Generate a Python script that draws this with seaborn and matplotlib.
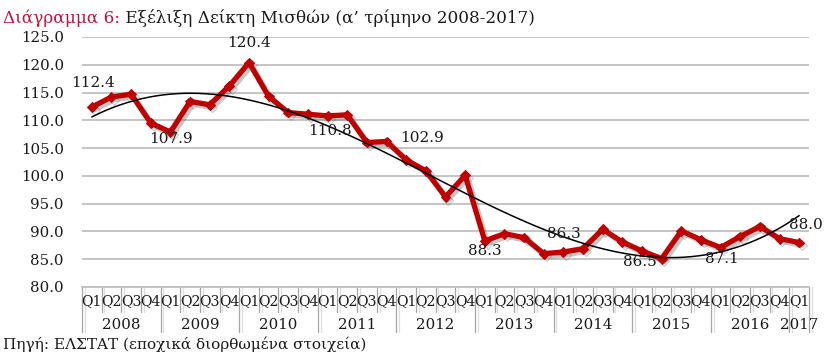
import numpy as np
import pandas as pd
import matplotlib
matplotlib.use('Agg')
import matplotlib.pyplot as plt
import matplotlib.patheffects as pe
import seaborn as sns

years = ['2008', '2009', '2010', '2011', '2012', '2013', '2014', '2015', '2016', '2017']
quarters = ['Q1', 'Q2', 'Q3', 'Q4'] * 9 + ['Q1']
values = [112.4, 114.2, 114.7, 109.5, 107.9, 113.4, 112.8, 116.2,
          120.4, 114.3, 111.4, 111.1, 110.8, 111.0, 106.0, 106.2,
          102.9, 100.9, 96.2, 100.1, 88.3, 89.6, 88.9, 86.0,
          86.3, 86.9, 90.4, 88.1, 86.5, 85.1, 90.1, 88.5,
          87.1, 89.1, 90.9, 88.7, 88.0]
labeled = [0, 4, 8, 12, 16, 20, 24, 28, 32, 36]
label_offsets_px = [(1, 24), (1, -7), (0, 20), (2, -15), (16, 22),
                    (0, -10), (0, 18), (-2, -11), (1, -11), (7, 18)]
yticks = [80, 85, 90, 95, 100, 105, 110, 115, 120, 125]

df = pd.DataFrame({'idx': np.arange(len(values)), 'value': values,
                   'quarter': quarters})

sns.set_theme(style='white')
plt.rcParams['font.family'] = ['DejaVu Serif']

fig = plt.figure(figsize=(8.3, 3.62), dpi=100)
ax = fig.add_axes([82 / 830, 1 - 287 / 362, (809 - 82) / 830, 250 / 362])

red = '#C00000'
sns.lineplot(data=df, x='idx', y='value', ax=ax, color=red, lw=3.8,
             marker='D', markersize=5, markeredgecolor=red,
             solid_joinstyle='round', solid_capstyle='round',
             path_effects=[pe.SimpleLineShadow(offset=(2, -2), shadow_color='#606060', alpha=0.35),
                           pe.Normal()],
             zorder=3)
sns.regplot(data=df, x='idx', y='value', order=3, scatter=False, ci=None,
            ax=ax, line_kws=dict(color='black', lw=1.1, zorder=4))

pt = 72 / 100
for i, (dx, dy) in zip(labeled, label_offsets_px):
    ax.annotate(f'{values[i]:.1f}', xy=(i, values[i]), xytext=(dx * pt, dy * pt),
                textcoords='offset points', ha='center', va='center',
                fontsize=11, color='#1a1a1a', zorder=5)

ax.set_xlim(-0.5, len(values) - 0.5)
ax.set_ylim(80, 125)
ax.set_yticks(yticks)
ax.set_yticklabels([f'{v:.1f}' for v in yticks], fontsize=10.8, color='#1a1a1a')
ax.tick_params(axis='y', length=0, pad=13)
ax.set_xticks([])
ax.set_xlabel('')
ax.set_ylabel('')
ax.yaxis.grid(True, color='#BFBFBF', lw=1.3)
ax.set_axisbelow(True)
for s in ['top', 'right', 'left']:
    ax.spines[s].set_visible(False)
ax.spines['bottom'].set_color('#BFBFBF')
ax.spines['bottom'].set_linewidth(1.3)

# category axis (quarters + years)
tr = ax.get_xaxis_transform()
q_bottom = -25 / 250
y_bottom = -45 / 250
shadow = [pe.SimpleLineShadow(offset=(2, 0), shadow_color='#C8C8C8', alpha=0.6), pe.Normal()]
for k in range(len(values) + 1):
    is_year = (k % 4 == 0) or k == len(values)
    ax.plot([k - 0.5, k - 0.5], [0, y_bottom if is_year else q_bottom],
            transform=tr, color='#A6A6A6', lw=0.9, clip_on=False,
            path_effects=shadow)
for i, q in enumerate(quarters):
    ax.text(i, -14.5 / 250, q, transform=tr, ha='center', va='center',
            fontsize=10.2, color='#1a1a1a')
for j, yr in enumerate(years):
    start = j * 4
    end = min(start + 4, len(values))
    ax.text((start + end - 1) / 2, -38 / 250, yr, transform=tr,
            ha='center', va='center', fontsize=10.8, color='#1a1a1a')

# title
t1 = fig.text(3 / 830, 1 - 23 / 362, 'Διάγραμμα 6:', color='#C0143C',
              fontsize=12.2, ha='left', va='baseline')
t2 = ax.annotate(' Εξέλιξη Δείκτη Μισθών', xy=(1, 0), xycoords=t1,
                 ha='left', va='bottom', fontsize=12.2, color='#1a1a1a',
                 annotation_clip=False)
t3 = ax.annotate(' (α\u2019 τρίμηνο 2008-2017)', xy=(1, 0), xycoords=t2,
                 ha='left', va='bottom', fontsize=12.2, color='#1a1a1a',
                 annotation_clip=False)

fig.text(3 / 830, 1 - 344 / 362, 'Πηγή: ΕΛΣΤΑΤ (εποχικά διορθωμένα στοιχεία)',
         fontsize=11, ha='left', va='center', color='#1a1a1a')

fig.savefig('out.png', dpi=100)
